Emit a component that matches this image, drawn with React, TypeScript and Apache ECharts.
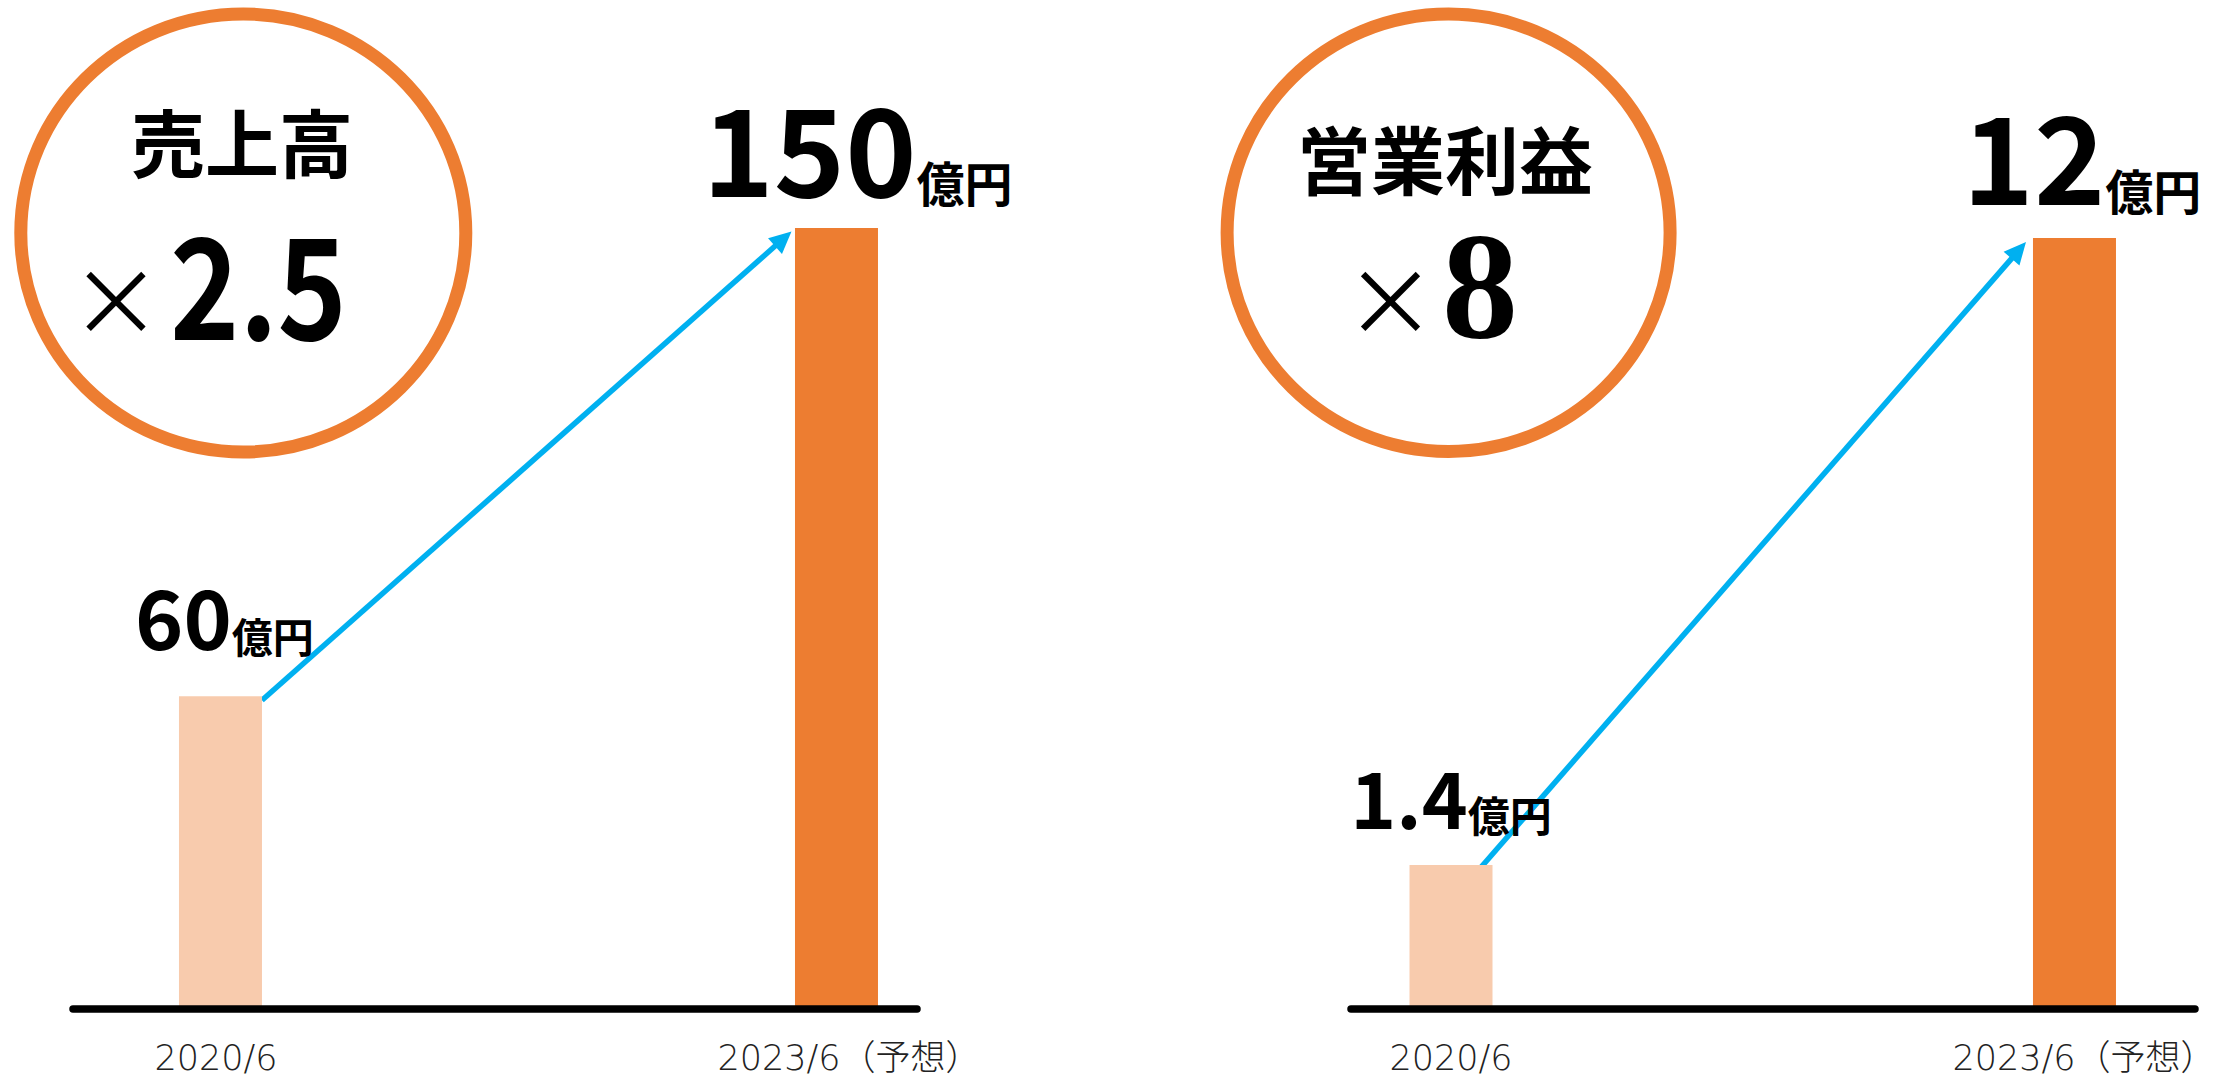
import React, { useEffect, useRef } from "react";
import * as echarts from "echarts";

// ---------- data ----------
const CATEGORIES = ["2020/6", "2023/6（予想）"];
const SALES = [60, 150];
const PROFIT = [1.4, 12];
const UNIT = "億円";
const SALES_TITLE = "売上高";
const PROFIT_TITLE = "営業利益";
const TIMES = "×";
const SALES_RATIO = "2.5";
const PROFIT_RATIO = "8";

// ---------- styles ----------
const FONT = '"Noto Sans CJK JP", "Noto Sans", sans-serif';
const LIGHTFONT = '"DejaVu Sans", "Noto Sans CJK JP", sans-serif';
const SERIF = '"Liberation Serif", "DejaVu Serif", serif';
const ORANGE = "#ED7D31";
const LIGHT = "#F8CBAD";
const BLUE = "#00B0F0";
const BAR_W = 83;
const W = 2228;
const H = 1077;
const AXIS_Y = 1008.5; // centre of the black baseline

type LabelStyle = { fa: number; fb: number; dist: number; dx: number };
type ChartCfg = {
  values: number[];
  left: number;
  width: number;
  top: number;
  xMin: number;
  xMax: number;
  yMax: number;
  labels: LabelStyle[];
  catPad: number[][];
  minBar: number;
  arrowStart: number[];
  arrowEnd: number[];
};

const LEFT: ChartCfg = {
  values: SALES,
  left: 73,
  width: 844,
  top: 228,
  xMin: -0.2394,
  xMax: 1.1307,
  yMax: 150,
  labels: [
    { fa: 82, fb: 41, dist: 41, dx: 4 },
    { fa: 121, fb: 48, dist: 23, dx: 21 },
  ],
  catPad: [
    [0, 9, 0, 0],
    [0, 0, 0, 25],
  ],
  minBar: 0,
  arrowStart: [0, 4],
  arrowEnd: [-3.5, 3.5],
};

const RIGHT: ChartCfg = {
  values: PROFIT,
  left: 1351,
  width: 844,
  top: 238,
  xMin: -0.1604,
  xMax: 1.1933,
  yMax: 12,
  labels: [
    { fa: 78, fb: 42, dist: 31, dx: 0 },
    { fa: 121, fb: 48, dist: 25, dx: 7.5 },
  ],
  catPad: [
    [0, 0, 0, 0],
    [0, 0, 0, 19],
  ],
  minBar: 143.5,
  arrowStart: [-13, 4],
  arrowEnd: [-7, 4],
};

function richFor(fa: number, fb: number) {
  const c = 0.31;
  return {
    a: { fontSize: fa, fontWeight: "bold", lineHeight: fa, verticalAlign: "bottom", fontFamily: FONT, color: "#000" },
    b: { fontSize: fb, fontWeight: "bold", lineHeight: fa - 2 * c * (fa - fb), verticalAlign: "bottom", fontFamily: FONT, color: "#000" },
  };
}

function buildChart(cfg: ChartCfg, idx: number) {
  const grid = { left: cfg.left, width: cfg.width, top: cfg.top, height: AXIS_Y - cfg.top };
  const catRich: any = {};
  cfg.catPad.forEach((p, i) => {
    catRich["c" + i] = {
      padding: p,
      fontSize: 35,
      lineHeight: 37,
      fontFamily: LIGHTFONT,
      fontWeight: 200,
      color: "#222",
    };
  });
  const xAxis = {
    gridIndex: idx,
    type: "value",
    min: cfg.xMin,
    max: cfg.xMax,
    z: 5,
    axisLine: { show: true, onZero: false, lineStyle: { color: "#000", width: 7.5 } },
    axisTick: { show: false },
    splitLine: { show: false },
    axisLabel: {
      show: true,
      customValues: CATEGORIES.map((_, i) => i),
      formatter: (v: number) => {
        const i = Math.round(v);
        return CATEGORIES[i] !== undefined ? `{c${i}|${CATEGORIES[i]}}` : "";
      },
      margin: 31,
      rich: catRich,
      fontSize: 35,
      fontFamily: LIGHTFONT,
      color: "#222",
    },
  };
  const yAxis = { gridIndex: idx, type: "value", min: 0, max: cfg.yMax, show: false };
  const colors = [LIGHT, ORANGE];
  const series = [
    {
      type: "bar",
      xAxisIndex: idx,
      yAxisIndex: idx,
      barWidth: BAR_W,
      barMinHeight: cfg.minBar,
      data: cfg.values.map((v, i) => ({
        value: [i, v],
        itemStyle: { color: colors[i] },
        label: {
          show: true,
          position: "top",
          distance: cfg.labels[i].dist,
          offset: [cfg.labels[i].dx, 0],
          formatter: `{a|${v}}{b|${UNIT}}`,
          rich: richFor(cfg.labels[i].fa, cfg.labels[i].fb),
        },
      })),
    },
    {
      type: "custom",
      xAxisIndex: idx,
      yAxisIndex: idx,
      data: [[0, cfg.values[0], 1, cfg.values[1]]],
      renderItem: (_params: any, api: any) => {
        const base = api.coord([0, 0]);
        const p0 = api.coord([api.value(0), api.value(1)]);
        const p1 = api.coord([api.value(2), api.value(3)]);
        const top0 = Math.min(p0[1], base[1] - cfg.minBar);
        const sx = p0[0] + BAR_W / 2 + cfg.arrowStart[0];
        const sy = top0 + cfg.arrowStart[1];
        const ex = p1[0] - BAR_W / 2 + cfg.arrowEnd[0];
        const ey = p1[1] + cfg.arrowEnd[1];
        const ang = Math.atan2(ey - sy, ex - sx);
        const cos = Math.cos(ang);
        const sin = Math.sin(ang);
        const headLen = 22;
        const headW = 21;
        const bx = ex - headLen * cos;
        const by = ey - headLen * sin;
        const nx = -sin;
        const ny = cos;
        return {
          type: "group",
          children: [
            {
              type: "line",
              shape: { x1: sx, y1: sy, x2: bx + 2 * cos, y2: by + 2 * sin },
              style: { stroke: BLUE, lineWidth: 5.5 },
            },
            {
              type: "polygon",
              shape: {
                points: [
                  [ex, ey],
                  [bx + (nx * headW) / 2, by + (ny * headW) / 2],
                  [bx - (nx * headW) / 2, by - (ny * headW) / 2],
                ],
              },
              style: { fill: BLUE },
            },
          ],
        };
      },
    },
  ];
  return { grid, xAxis, yAxis, series };
}

function circleGraphics(cx: number, cy: number, rx: number, ry: number) {
  return {
    type: "ellipse",
    shape: { cx, cy, rx, ry },
    style: { fill: "transparent", stroke: ORANGE, lineWidth: 13 },
    z: 1,
  };
}

function txt(
  text: string,
  x: number,
  y: number,
  fontSize: number,
  fontWeight: any,
  fontFamily: string,
  lineHeight: number,
  scaleX = 1
) {
  return {
    type: "text",
    x,
    y,
    scaleX,
    z: 2,
    style: {
      text,
      fontSize,
      fontWeight,
      fontFamily,
      lineHeight,
      fill: "#000",
      textAlign: "center",
      align: "center",
      textVerticalAlign: "middle",
      verticalAlign: "middle",
    },
  };
}

export default function App() {
  const ref = useRef<HTMLDivElement>(null);
  useEffect(() => {
    if (!ref.current) return;
    const chart = echarts.init(ref.current, undefined, { renderer: "svg" });
    const a = buildChart(LEFT, 0);
    const b = buildChart(RIGHT, 1);
    chart.setOption({
      animation: false,
      backgroundColor: "#fff",
      grid: [a.grid, b.grid],
      xAxis: [a.xAxis, b.xAxis],
      yAxis: [a.yAxis, b.yAxis],
      series: [...a.series, ...b.series],
      graphic: {
        elements: [
          circleGraphics(243.3, 233, 222.5, 219),
          circleGraphics(1448.6, 232.8, 221.5, 218.7),
          txt(SALES_TITLE, 242, 139.5, 74, "bold", FONT, 72),
          txt(TIMES, 116, 295.5, 92, "normal", FONT, 60),
          txt(SALES_RATIO, 258.5, 279, 140, "bold", FONT, 104, 0.84),
          txt(PROFIT_TITLE, 1445, 156.5, 74, "bold", FONT, 72),
          txt(TIMES, 1390.5, 295.5, 92, "normal", FONT, 60),
          txt(PROFIT_RATIO, 1480, 287, 152, "bold", SERIF, 104),
        ],
      },
    });
    return () => chart.dispose();
  }, []);
  return (
    <div
      ref={ref}
      style={{ position: "absolute", left: 0, top: 0, width: W, height: H, background: "#fff" }}
    />
  );
}
